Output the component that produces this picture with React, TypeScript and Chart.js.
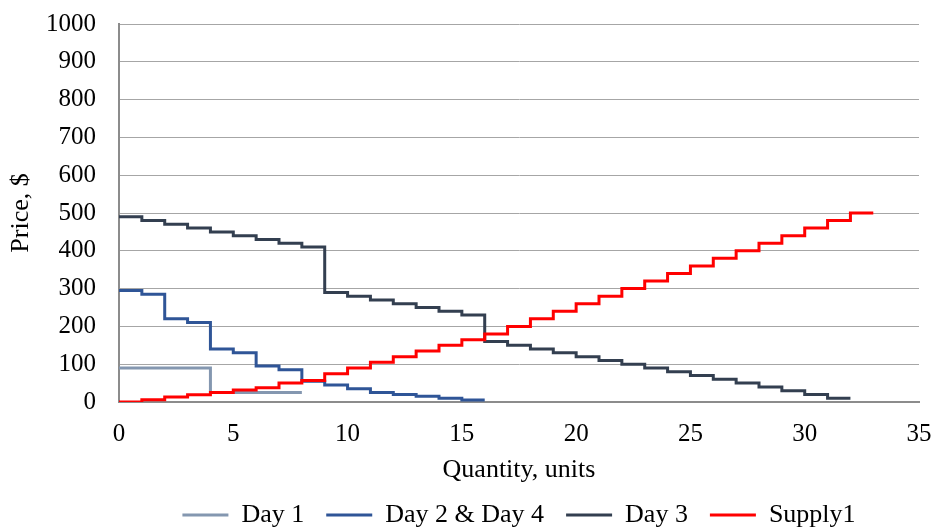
import React, { useEffect, useRef } from "react";
import { Chart, registerables } from "chart.js";

Chart.register(...registerables);

// Price per unit step (each value covers one unit of quantity)
const day1Prices = [90, 90, 90, 90, 25, 25, 25, 25];
const day24Prices = [295, 285, 220, 210, 140, 130, 95, 85, 55, 45, 35, 25, 20, 15, 10, 5];
const day3Prices = [
  490, 480, 470, 460, 450, 440, 430, 420, 410, 290, 280, 270, 260, 250, 240, 230,
  160, 150, 140, 130, 120, 110, 100, 90, 80, 70, 60, 50, 40, 30, 20, 10,
];
const supplyPrices = [
  0, 6, 13, 19, 25, 32, 38, 50, 57, 75, 90, 105, 120, 135, 150, 165, 180, 200, 220,
  240, 260, 280, 300, 320, 340, 360, 380, 400, 420, 440, 460, 480, 500,
];

const seriesNames = ["Day 1", "Day 2 & Day 4", "Day 3", "Supply1"];
const seriesColors = ["#8497B0", "#2F5597", "#333F50", "#FF0000"];

const xTitle = "Quantity, units";
const yTitle = "Price, $";

const FONT = "'Liberation Serif', 'Times New Roman', serif";

function toSteps(prices: number[]) {
  const pts = prices.map((p, i) => ({ x: i, y: p }));
  pts.push({ x: prices.length, y: prices[prices.length - 1] });
  return pts;
}

export default function App() {
  const ref = useRef<HTMLCanvasElement | null>(null);

  useEffect(() => {
    document.body.style.margin = "0";
    const all = [day1Prices, day24Prices, day3Prices, supplyPrices];
    const chart = new Chart(ref.current as HTMLCanvasElement, {
      type: "line",
      data: {
        datasets: all.map((prices, i) => ({
          label: seriesNames[i],
          data: toSteps(prices),
          borderColor: seriesColors[i],
          backgroundColor: seriesColors[i],
          borderWidth: 3,
          pointRadius: 0,
          pointHoverRadius: 0,
          stepped: "before" as const,
          fill: false,
          order: 4 - i,
        })),
      },
      options: {
        animation: false,
        responsive: false,
        devicePixelRatio: 1,
        layout: { autoPadding: false, padding: { top: 24, right: 14, bottom: -11, left: 0 } },
        scales: {
          x: {
            type: "linear",
            min: 0,
            max: 35,
            ticks: {
              stepSize: 5,
              padding: 17,
              color: "#000",
              font: { family: FONT, size: 25 },
              callback: (v: any) => String(v),
            },
            grid: { display: false, drawTicks: false },
            border: { display: true, color: "#8C8C8C", width: 2 },
            title: {
              display: true,
              text: xTitle,
              color: "#000",
              font: { family: FONT, size: 26 },
              padding: { top: 0, bottom: -6 },
            },
            afterFit: (scale: any) => {
              scale.height = 78;
              scale.paddingLeft = 0;
              scale.paddingRight = 0;
            },
          },
          y: {
            type: "linear",
            min: 0,
            max: 1000,
            ticks: {
              stepSize: 100,
              padding: 23,
              color: "#000",
              font: { family: FONT, size: 25 },
              callback: (v: any) => String(v),
            },
            grid: { color: "#A6A6A6", lineWidth: 1, drawTicks: false },
            border: { display: true, color: "#8C8C8C", width: 2 },
            title: {
              display: true,
              text: yTitle,
              color: "#000",
              font: { family: FONT, size: 26 },
              padding: { top: 6, bottom: 0 },
            },
            afterFit: (scale: any) => {
              scale.width = 119;
              scale.paddingTop = 0;
              scale.paddingBottom = 0;
            },
          },
        },
        plugins: {
          tooltip: { enabled: false },
          legend: {
            position: "bottom",
            fullSize: false,
            labels: {
              boxWidth: 46,
              boxHeight: 3,
              padding: 22,
              color: "#000",
              font: { family: FONT, size: 26 },
              sort: (a: any, b: any) => a.datasetIndex - b.datasetIndex,
              generateLabels: (c: any) =>
                Chart.defaults.plugins.legend.labels
                  .generateLabels(c)
                  .map((l: any) => ({ ...l, lineWidth: 0, fillStyle: l.strokeStyle })),
            },
          },
        },
      },
    });
    return () => chart.destroy();
  }, []);

  return (
    <div style={{ width: 933, height: 527 }}>
      <canvas ref={ref} width={933} height={527} />
    </div>
  );
}
